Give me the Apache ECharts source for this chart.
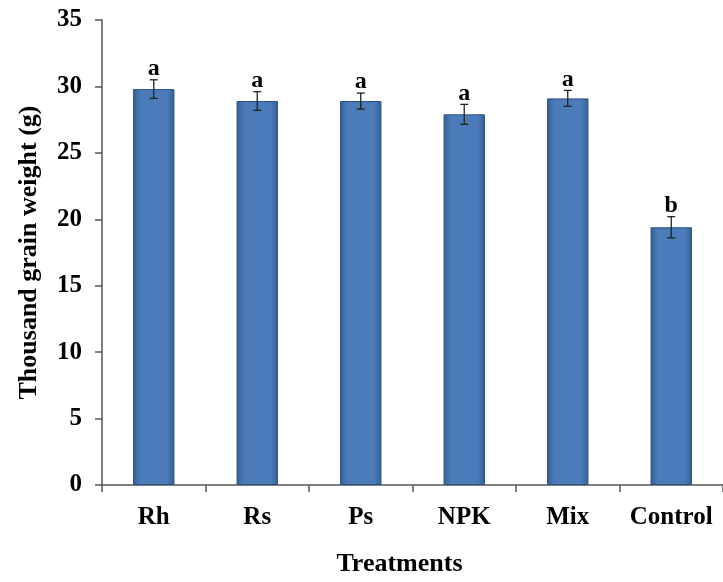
<!DOCTYPE html>
<html>
<head>
<meta charset="utf-8">
<script src="https://cdn.jsdelivr.net/npm/echarts@6/dist/echarts.min.js"></script>
<style>html,body{margin:0;padding:0;background:#fff}#c{width:723px;height:582px}</style>
</head>
<body>
<div id="c"></div>
<script>
const categories = ['Rh', 'Rs', 'Ps', 'NPK', 'Mix', 'Control'];
const values = [29.8, 28.9, 28.9, 27.9, 29.1, 19.4];
const errors = [0.7, 0.7, 0.6, 0.75, 0.6, 0.8];
const letters = ['a', 'a', 'a', 'a', 'a', 'b'];
const yTicks = [0, 5, 10, 15, 20, 25, 30, 35];

const FONT = '"Liberation Serif", "Times New Roman", serif';
const chart = echarts.init(document.getElementById('c'));

const errData = categories.map((c, i) => [i, values[i], errors[i]]);

chart.setOption({
  animation: false,
  grid: { left: 102, top: 20, width: 624, height: 468, containLabel: false },
  xAxis: {
    type: 'category',
    data: categories,
    name: 'Treatments',
    nameLocation: 'middle',
    nameGap: 66,
    nameTextStyle: { fontFamily: FONT, fontWeight: 'bold', fontSize: 26, color: '#000', padding: [0, 26, 0, 0] },
    axisLine: { lineStyle: { color: '#555', width: 1.5 } },
    axisTick: { show: true, interval: 0, length: 7, lineStyle: { color: '#555', width: 1.5 } },
    axisLabel: { interval: 0, hideOverlap: false, margin: 20, fontFamily: FONT, fontWeight: 'bold', fontSize: 25, color: '#000' }
  },
  yAxis: {
    type: 'value',
    min: yTicks[0],
    max: yTicks[yTicks.length - 1],
    interval: 5,
    name: 'Thousand grain weight (g)',
    nameLocation: 'middle',
    nameGap: 60,
    nameTextStyle: { fontFamily: FONT, fontWeight: 'bold', fontSize: 26, color: '#000' },
    splitLine: { show: false },
    axisLine: { show: true, lineStyle: { color: '#555', width: 1.5 } },
    axisTick: { show: true, length: 7, lineStyle: { color: '#555', width: 1.5 } },
    axisLabel: { margin: 20, fontFamily: FONT, fontWeight: 'bold', fontSize: 25, color: '#000' }
  },
  series: [
    {
      type: 'bar',
      data: values,
      barWidth: '40%',
      itemStyle: {
        color: new echarts.graphic.LinearGradient(0, 0, 1, 0, [
          { offset: 0, color: '#365f92' },
          { offset: 0.18, color: '#4b7cb9' },
          { offset: 0.82, color: '#4b7cb9' },
          { offset: 1, color: '#365f92' }
        ]),
        borderColor: '#2c5080',
        borderWidth: 1
      }
    },
    {
      type: 'custom',
      data: errData,
      z: 10,
      renderItem: function (params, api) {
        const x = api.value(0);
        const v = api.value(1);
        const e = api.value(2);
        const top = api.coord([x, v + e]);
        const bot = api.coord([x, v - e]);
        const hw = 4;
        const style = { stroke: '#222', lineWidth: 1.3 };
        return {
          type: 'group',
          children: [
            { type: 'line', shape: { x1: top[0], y1: top[1], x2: bot[0], y2: bot[1] }, style: style },
            { type: 'line', shape: { x1: top[0] - hw, y1: top[1], x2: top[0] + hw, y2: top[1] }, style: style },
            { type: 'line', shape: { x1: bot[0] - hw, y1: bot[1], x2: bot[0] + hw, y2: bot[1] }, style: style },
            { type: 'text', x: top[0], y: top[1] + 1,
              style: { text: letters[params.dataIndex], fontFamily: FONT, fontWeight: 'bold', fontSize: 24,
                       fill: '#000', textAlign: 'center', textVerticalAlign: 'bottom' } }
          ]
        };
      }
    }
  ]
});
</script>
</body>
</html>
